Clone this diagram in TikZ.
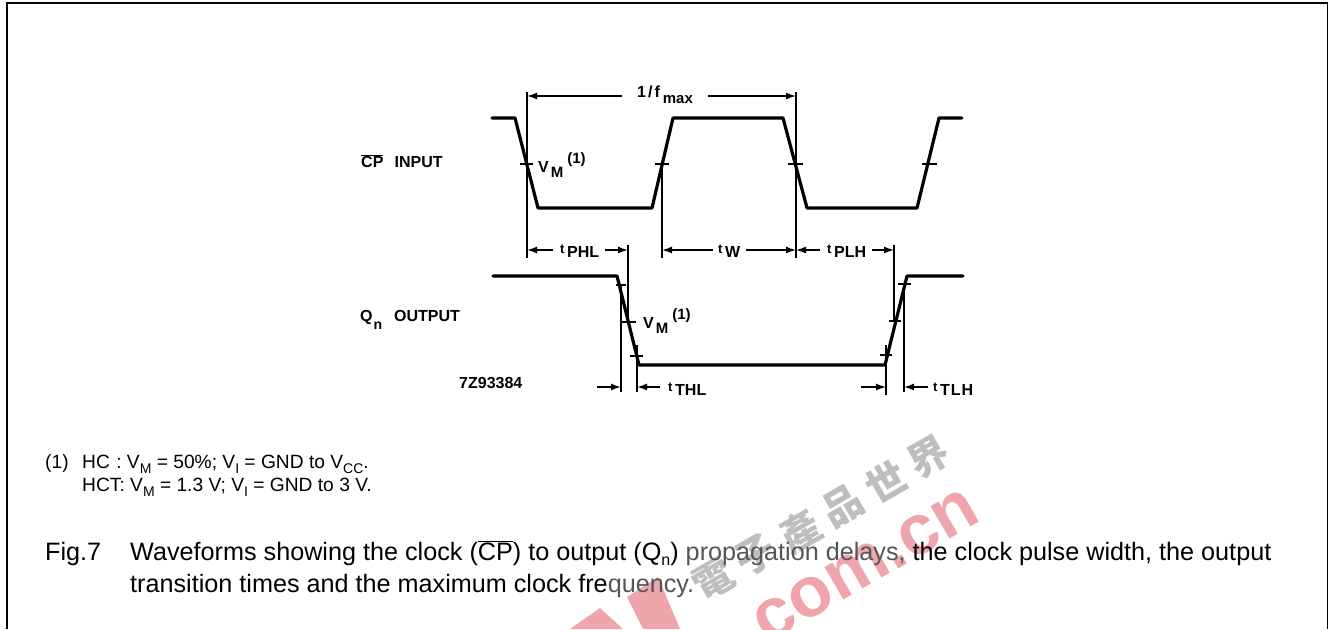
\documentclass[tikz,border=0pt]{standalone}
\usepackage{fontspec}
\setmainfont{Liberation Sans}
\newfontfamily\cjkfont{Noto Sans CJK TC}
\usetikzlibrary{arrows.meta}
\definecolor{wmred}{HTML}{EEA5AB}
\definecolor{wmgray}{HTML}{BEBEBE}
\definecolor{dimtext}{HTML}{555555}
\tikzset{
  wave/.style={line width=3.2pt,line join=round,line cap=round},
  tickmark/.style={line width=1.3pt},
  guide/.style={line width=1.3pt},
  dimarrow/.style={line width=1.4pt,-{Latex[length=10pt,width=7pt]}},
  lab/.style={inner sep=0pt,font=\bfseries\fontsize{16}{18}\selectfont,anchor=west},
  smalltext/.style={inner sep=0pt,anchor=base west,font=\fontsize{19.2}{22}\selectfont},
  captext/.style={inner sep=0pt,anchor=base west,font=\fontsize{25.2}{30}\selectfont},
  wmlatin/.style={inner sep=0pt,anchor=center,rotate=30,text=wmred,font=\bfseries\fontsize{71}{71}\selectfont},
  wmcjk/.style={inner sep=0pt,anchor=center,rotate=30,text=wmgray,font=\cjkfont\bfseries\fontsize{40}{40}\selectfont},
}
\newcommand{\lowtext}[1]{\raisebox{-0.35em}{\fontsize{15}{15}\selectfont #1}}
\newcommand{\sbn}[1]{\raisebox{-0.5em}{\fontsize{14}{14}\selectfont #1}}
\newcommand{\sbc}[1]{\raisebox{-0.3em}{\fontsize{14}{14}\selectfont #1}}
\newcommand{\rt}{\raisebox{0.22em}{\fontsize{13}{13}\selectfont t}}
\newcommand{\vmone}{V\hspace{2pt}\lowtext{M}\raisebox{0.55em}{\hspace{4pt}\fontsize{15}{15}\selectfont(1)}}
\begin{document}
\begin{tikzpicture}[x=1pt,y=-1pt]
\useasboundingbox (0,0) rectangle (1332,629);
% watermark
\node[wmlatin] (wm1) at (866,566) {com.cn};
\fill[wmred] (627,597) -- (658,577) -- (680,629) -- (643,629) -- cycle;
\fill[wmred] (570,629) -- (600,608) -- (623,629) -- cycle;
\foreach \n/\ch/\xx/\yy in {w1/電/713/580,w2/子/756/555,w3/產/800/531,w4/品/843/506,w5/世/886/482,w6/界/929/457}{
  \node[wmcjk] (\n) at (\xx,\yy) {\ch};}
% frame
\coordinate (f1) at (7,629); \coordinate (f2) at (7,3);
\coordinate (f3) at (1327.5,3); \coordinate (f4) at (1327.5,629);
\draw[line width=1.8pt] (f1) -- (f2) -- (f3) -- (f4);
% input waveform
\coordinate (a0) at (492,118); \coordinate (a1) at (515,118);
\coordinate (a2) at (538,208); \coordinate (a3) at (652,208);
\coordinate (a4) at (673,118); \coordinate (a5) at (783,118);
\coordinate (a6) at (807,208); \coordinate (a7) at (917,208);
\coordinate (a8) at (939,118); \coordinate (a9) at (962,118);
\draw[wave] (a0)--(a1)--(a2)--(a3)--(a4)--(a5)--(a6)--(a7)--(a8)--(a9);
% output waveform
\coordinate (b0) at (493,276); \coordinate (b1) at (617,276);
\coordinate (b2) at (639,365); \coordinate (b3) at (885,365);
\coordinate (b4) at (907,276); \coordinate (b5) at (963,276);
\draw[wave] (b0)--(b1)--(b2)--(b3)--(b4)--(b5);
% input ticks
\foreach \n/\xa/\xb in {t1/520/533,t2/655/669,t3/788/803,t4/922/937}{
  \coordinate (\n l) at (\xa,164); \coordinate (\n r) at (\xb,164);
  \draw[tickmark] (\n l)--(\n r);}
% output ticks
\foreach \n/\xa/\xb/\yy in {u1/616/626/285,u2/622/636/322,u3/630/643/356,u4/880/892/355,u5/889/901/321,u6/898/911/284}{
  \coordinate (\n l) at (\xa,\yy); \coordinate (\n r) at (\xb,\yy);
  \draw[tickmark] (\n l)--(\n r);}
% guides
\foreach \n/\xx/\ya/\yb in {g1/527/92/258,g2/662/164/258,g3/796/92/258,g4/628/245/320,g5/894/245/320,g6/621/285/392,g7/637/345/392,g8/886/345/395,g9/904/284/392}{
  \coordinate (\n t) at (\xx,\ya); \coordinate (\n b) at (\xx,\yb);
  \draw[guide] (\n t)--(\n b);}
% labels
\node[lab] (cp) at (361,161) {\(\overline{\mbox{CP}}\)\hspace{0.7em}INPUT};
\node[lab] (qn) at (360,320) {Q\hspace{1pt}\sbn{n}\hspace{0.75em}OUTPUT};
\node[lab] (code) at (459,383) {7Z93384};
\node[lab] (vm1) at (538,165) {\vmone};
\node[lab] (vm2) at (643,321) {\vmone};
\node[lab] (fmax) at (637,95) {1\hspace{2pt}/\hspace{2pt}f\hspace{3pt}\lowtext{max}};
\node[lab] (tphl) at (560,251) {\rt\,PHL};
\node[lab] (tw) at (718,251) {\rt\,W};
\node[lab] (tplh) at (827,251) {\rt\,PLH};
\node[lab] (tthl) at (668,389) {\rt\,THL};
\node[lab] (ttlh) at (933,389) {\rt\,T\hspace{1pt}L\hspace{1pt}H};
% dimension arrows
\coordinate (s1) at (622,96); \coordinate (d1) at (527,96);
\coordinate (s2) at (708,96); \coordinate (d3) at (796,96);
\draw[dimarrow] (s1) -- (d1);
\draw[dimarrow] (s2) -- (d3);
\coordinate (s3) at (553,250); \coordinate (e1) at (527,250);
\coordinate (s4) at (605,250); \coordinate (e2) at (628,250);
\draw[dimarrow] (s3) -- (e1);
\draw[dimarrow] (s4) -- (e2);
\coordinate (s5) at (713,250); \coordinate (e3) at (662,250);
\coordinate (s6) at (746,250); \coordinate (e4) at (796,250);
\draw[dimarrow] (s5) -- (e3);
\draw[dimarrow] (s6) -- (e4);
\coordinate (s7) at (820,250); \coordinate (e5) at (796,250);
\coordinate (s8) at (872,250); \coordinate (e6) at (894,250);
\draw[dimarrow] (s7) -- (e5);
\draw[dimarrow] (s8) -- (e6);
\coordinate (h1s) at (597,387); \coordinate (h1) at (621,387);
\draw[dimarrow] (h1s) -- (h1);
\coordinate (h2s) at (660,387); \coordinate (h2) at (637,387);
\draw[dimarrow] (h2s) -- (h2);
\coordinate (h3s) at (861,387); \coordinate (h3) at (886,387);
\draw[dimarrow] (h3s) -- (h3);
\coordinate (h4s) at (928,387); \coordinate (h4) at (904,387);
\draw[dimarrow] (h4s) -- (h4);
% notes
\node[smalltext] (n1) at (45,468) {(1)};
\node[smalltext] (n2) at (82,468) {HC\,\,: V\sbc{M} = 50\%; V\sbc{I} = GND to V\sbc{CC}.};
\node[smalltext] (n3) at (82,491) {HCT: V\sbc{M} = 1.3 V; V\sbc{I} = GND to 3 V.};
\node[captext] (c1) at (45,560) {Fig.7};
\node[captext] (c2) at (130,560) {Waveforms showing the clock (\(\overline{\mbox{CP}}\)) to output (Q\raisebox{-0.22em}{\fontsize{16}{16}\selectfont n}) \textcolor{dimtext}{propagation delays,} the clock pulse width, the output};
\node[captext] (c3) at (130,592) {transition times and the maximum clock fre\textcolor{dimtext}{quency.}};
\end{tikzpicture}
\end{document}
